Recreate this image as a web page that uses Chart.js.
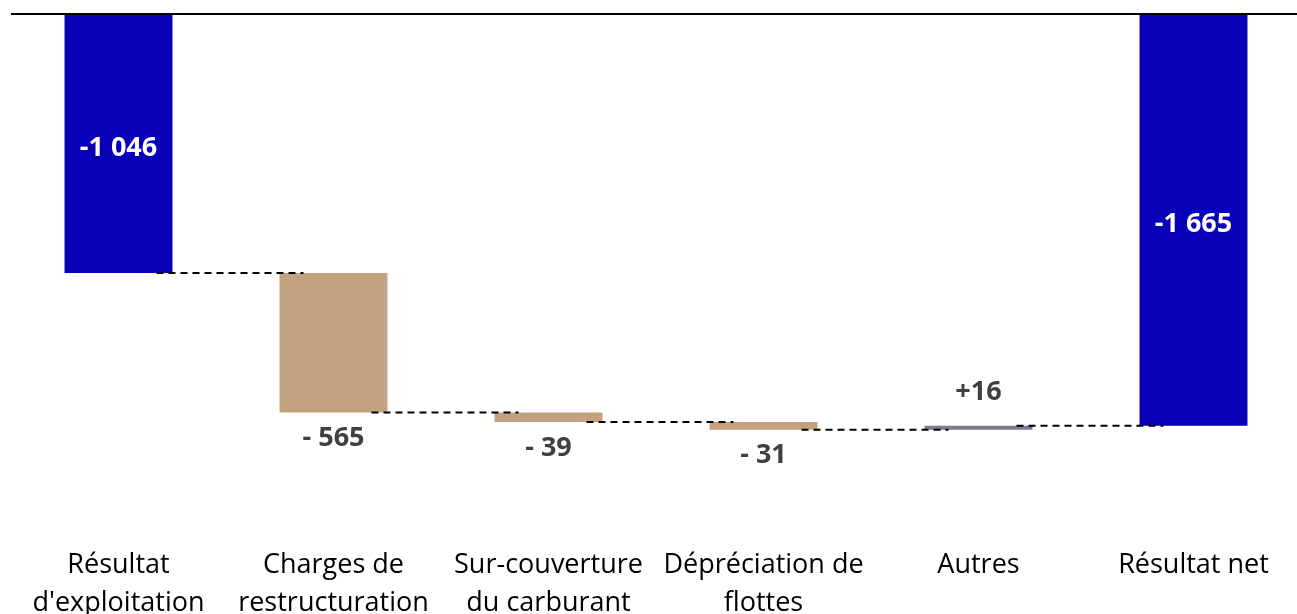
<!DOCTYPE html>
<html>
<head>
<meta charset="utf-8">
<script src="https://cdn.jsdelivr.net/npm/chart.js@4/dist/chart.umd.min.js"></script>
<style>
  html, body { margin: 0; padding: 0; background: #fff; overflow: hidden; }
  #wrap { width: 1302px; height: 626px; }
</style>
</head>
<body>
<div id="wrap"><canvas id="waterfall" width="1302" height="626"></canvas></div>
<script>
// Categories (two-line tick labels)
var categories = [
    ["Résultat", "d'exploitation"],
    ["Charges de", "restructuration"],
    ["Sur-couverture", "du carburant"],
    ["Dépréciation de", "flottes"],
    ["Autres"],
    ["Résultat net"]
];
// Step values: first is the starting total, then the changes
var startValue = -1046;
var changes = [-565, -39, -31, 16];
// Total shown on the last bar
var netResult = -1665;

// Colours
var totalColor = '#0700B8';
var minusColor = '#C4A280';
var plusColor = '#787C93';

// Build the floating bars [from, to] out of the arrays above
var floating = [[0, startValue]];
var kinds = ['total'];
var running = startValue;
changes.forEach(function (c) {
    floating.push([running, running + c]);
    kinds.push(c < 0 ? 'minus' : 'plus');
    running += c;
});
floating.push([0, netResult]);
kinds.push('total');
var rawValues = [startValue].concat(changes).concat([netResult]);

var barColors = kinds.map(function (k) {
    if (k === 'total') return totalColor;
    return k === 'minus' ? minusColor : plusColor;
});

// number like 1046 -> "1 046"
function spaced(n) {
    return String(Math.abs(n)).replace(/\B(?=(\d{3})+(?!\d))/g, ' ');
}
function labelText(i) {
    var v = rawValues[i];
    if (kinds[i] === 'total') return '-' + spaced(v);
    return (v < 0 ? '- ' : '+') + spaced(v);
}

// Top zero line, dashed connectors and value labels
var waterfallExtras = {
    id: 'waterfallExtras',
    beforeDatasetsDraw: function (chart) {
        var ctx = chart.ctx;
        var y = chart.scales.y;
        var area = chart.chartArea;

        ctx.save();
        // zero line along the top
        ctx.strokeStyle = '#000';
        ctx.lineWidth = 2;
        ctx.beginPath();
        ctx.moveTo(area.left, y.getPixelForValue(0) - 1);
        ctx.lineTo(area.right + 10, y.getPixelForValue(0) - 1);
        ctx.stroke();
        ctx.restore();
    },
    afterDatasetsDraw: function (chart) {
        var ctx = chart.ctx;
        var y = chart.scales.y;
        var bars = chart.getDatasetMeta(0).data;

        // dashed connectors between the bars
        ctx.save();
        ctx.strokeStyle = '#000';
        ctx.lineWidth = 2;
        ctx.setLineDash([7, 5]);
        for (var i = 0; i < bars.length - 1; i++) {
            var level = y.getPixelForValue(floating[i][1]);
            ctx.beginPath();
            ctx.moveTo(bars[i].x + 38, level);
            ctx.lineTo(bars[i + 1].x - 30, level);
            ctx.stroke();
        }
        ctx.restore();

        // value labels
        ctx.save();
        ctx.font = 'bold 27px "Open Sans"';
        ctx.textAlign = 'center';
        ctx.textBaseline = 'middle';
        bars.forEach(function (bar, i) {
            var from = y.getPixelForValue(floating[i][0]);
            var to = y.getPixelForValue(floating[i][1]);
            var ty;
            if (kinds[i] === 'total') {
                ctx.fillStyle = '#fff';
                ty = (from + to) / 2 + 4;
            } else if (kinds[i] === 'minus') {
                ctx.fillStyle = '#404040';
                ty = Math.max(from, to) + 26;
            } else {
                ctx.fillStyle = '#404040';
                ty = Math.min(from, to) - 33;
            }
            ctx.fillText(labelText(i), bar.x, ty);
        });
        ctx.restore();
    }
};

var chart = new Chart(document.getElementById('waterfall').getContext('2d'), {
    type: 'bar',
    data: {
        labels: categories,
        datasets: [{
            data: floating,
            backgroundColor: barColors,
            borderWidth: 0,
            barPercentage: 1,
            categoryPercentage: 0.502
        }]
    },
    options: {
        responsive: false,
        animation: false,
        layout: {
            padding: { left: 11, top: 15, right: 1, bottom: 0 }
        },
        plugins: {
            legend: { display: false },
            tooltip: { enabled: false }
        },
        scales: {
            x: {
                grid: { display: false },
                border: { display: false },
                ticks: {
                    color: '#000',
                    padding: 4,
                    maxRotation: 0,
                    autoSkip: false,
                    font: { family: '"Open Sans"', size: 27, lineHeight: '38px' }
                }
            },
            y: {
                display: false,
                min: -2104,
                max: 0
            }
        }
    },
    plugins: [waterfallExtras]
});
</script>
</body>
</html>
